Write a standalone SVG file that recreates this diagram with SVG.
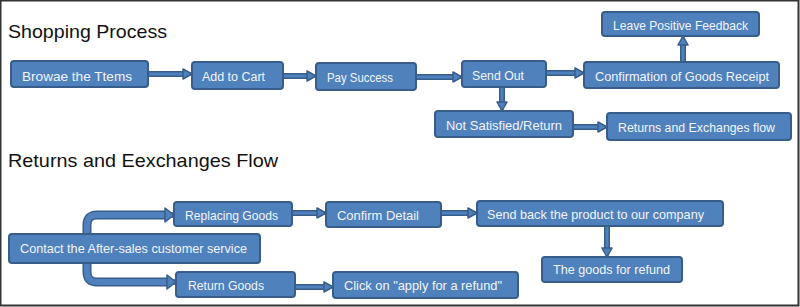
<svg xmlns="http://www.w3.org/2000/svg" width="800" height="307" viewBox="0 0 800 307">
<style>
.box{fill:#4F81BD;stroke:#385D8A;stroke-width:2}
.lbl{font-family:"Liberation Sans",Arial,sans-serif;font-size:13px;fill:#F2F5FA}
.ttl{font-family:"Liberation Sans",Arial,sans-serif;font-size:19px;fill:#111}
.so{fill:none;stroke:#385D8A;stroke-width:6}
.si{fill:none;stroke:#4F81BD;stroke-width:3}
.bo{fill:none;stroke:#385D8A;stroke-width:9}
.bi{fill:none;stroke:#4F81BD;stroke-width:6}
.hd{fill:#4F81BD;stroke:#385D8A;stroke-width:1.5;stroke-linejoin:round}
</style>
<defs>
<marker id="ah" markerUnits="userSpaceOnUse" viewBox="-1 -7 12 14" refX="9" refY="0" markerWidth="12" markerHeight="14" orient="auto" overflow="visible">
<path class="hd" d="M0,-5 L9,0 L0,5 Z"/>
</marker>
<marker id="ahb" markerUnits="userSpaceOnUse" viewBox="-1 -9 12 18" refX="9" refY="0" markerWidth="12" markerHeight="18" orient="auto" overflow="visible">
<path class="hd" d="M0,-7 L9,0 L0,7 Z"/>
</marker>
</defs>
<rect x="0.5" y="0.5" width="798" height="305" fill="#FFFFFF" stroke="#333333" stroke-width="2"/>
<text class="ttl" x="8" y="38" textLength="159" lengthAdjust="spacingAndGlyphs">Shopping Process</text>
<text class="ttl" x="8" y="167" textLength="270" lengthAdjust="spacingAndGlyphs">Returns and Eexchanges Flow</text>
<g id="connectors">
<path class="so" d="M148,74 H186"/><path class="si" d="M148,74 H192" marker-end="url(#ah)"/>
<path class="so" d="M283,76 H310"/><path class="si" d="M283,76 H316" marker-end="url(#ah)"/>
<path class="so" d="M416,77 H456"/><path class="si" d="M416,77 H462" marker-end="url(#ah)"/>
<path class="so" d="M546,73 H578"/><path class="si" d="M546,73 H584" marker-end="url(#ah)"/>
<path class="so" d="M683,62 V42"/><path class="si" d="M683,62 V36" marker-end="url(#ah)"/>
<path class="so" d="M502,87 V105"/><path class="si" d="M502,87 V111" marker-end="url(#ah)"/>
<path class="so" d="M573,127 H601"/><path class="si" d="M573,127 H607" marker-end="url(#ah)"/>
<path class="so" d="M292,213 H320"/><path class="si" d="M292,213 H326" marker-end="url(#ah)"/>
<path class="so" d="M441,213 H471"/><path class="si" d="M441,213 H477" marker-end="url(#ah)"/>
<path class="so" d="M607,226 V251"/><path class="si" d="M607,226 V257" marker-end="url(#ah)"/>
<path class="so" d="M295,287 H327"/><path class="si" d="M295,287 H333" marker-end="url(#ah)"/>
<path class="bo" d="M87,236 V225 Q87,215 97,215 H167"/><path class="bi" d="M87,236 V225 Q87,215 97,215 H174" marker-end="url(#ahb)"/>
<path class="bo" d="M87,261 V272 Q87,282 97,282 H169"/><path class="bi" d="M87,261 V272 Q87,282 97,282 H176" marker-end="url(#ahb)"/>
</g>
<g id="browse"><rect class="box" x="11" y="61" width="137" height="26" rx="3"/><text class="lbl" x="22" y="81" textLength="110" lengthAdjust="spacingAndGlyphs">Browae the  Ttems</text></g>
<g id="addcart"><rect class="box" x="192" y="62" width="91" height="27" rx="3"/><text class="lbl" x="202" y="81" textLength="63" lengthAdjust="spacingAndGlyphs">Add to Cart</text></g>
<g id="pay"><rect class="box" x="316" y="63" width="100" height="27" rx="3"/><text class="lbl" x="327" y="82" textLength="66" lengthAdjust="spacingAndGlyphs">Pay Success</text></g>
<g id="sendout"><rect class="box" x="462" y="61" width="84" height="26" rx="3"/><text class="lbl" x="472" y="80" textLength="52" lengthAdjust="spacingAndGlyphs">Send Out</text></g>
<g id="confirmation"><rect class="box" x="584" y="62" width="195" height="26" rx="3"/><text class="lbl" x="595" y="81" textLength="174" lengthAdjust="spacingAndGlyphs">Confirmation of Goods Receipt</text></g>
<g id="feedback"><rect class="box" x="602" y="12" width="157" height="24" rx="3"/><text class="lbl" x="613" y="30" textLength="135" lengthAdjust="spacingAndGlyphs">Leave Positive Feedback</text></g>
<g id="notsatisfied"><rect class="box" x="435" y="111" width="138" height="26" rx="3"/><text class="lbl" x="446" y="130" textLength="116" lengthAdjust="spacingAndGlyphs">Not Satisfied/Return</text></g>
<g id="returnsflow"><rect class="box" x="607" y="113" width="184" height="27" rx="3"/><text class="lbl" x="618" y="132" textLength="157" lengthAdjust="spacingAndGlyphs">Returns and Exchanges flow</text></g>
<g id="replacing"><rect class="box" x="174" y="202" width="118" height="24" rx="3"/><text class="lbl" x="185" y="220" textLength="93" lengthAdjust="spacingAndGlyphs">Replacing Goods</text></g>
<g id="confirmdetail"><rect class="box" x="326" y="202" width="115" height="25" rx="3"/><text class="lbl" x="337" y="220" textLength="82" lengthAdjust="spacingAndGlyphs">Confirm Detail</text></g>
<g id="sendback"><rect class="box" x="477" y="201" width="246" height="25" rx="3"/><text class="lbl" x="487" y="219" textLength="217" lengthAdjust="spacingAndGlyphs">Send back the product to our company</text></g>
<g id="contact"><rect class="box" x="9" y="234" width="251" height="29" rx="3"/><text class="lbl" x="20" y="253" textLength="227" lengthAdjust="spacingAndGlyphs">Contact the After-sales customer service</text></g>
<g id="returngoods"><rect class="box" x="176" y="272" width="119" height="25" rx="3"/><text class="lbl" x="188" y="290" textLength="76" lengthAdjust="spacingAndGlyphs">Return Goods</text></g>
<g id="clickrefund"><rect class="box" x="333" y="272" width="185" height="26" rx="3"/><text class="lbl" x="344" y="290" textLength="158" lengthAdjust="spacingAndGlyphs">Click on "apply for a refund"</text></g>
<g id="goodsrefund"><rect class="box" x="542" y="257" width="140" height="25" rx="3"/><text class="lbl" x="553" y="274" textLength="117" lengthAdjust="spacingAndGlyphs">The goods for refund</text></g>
</svg>
